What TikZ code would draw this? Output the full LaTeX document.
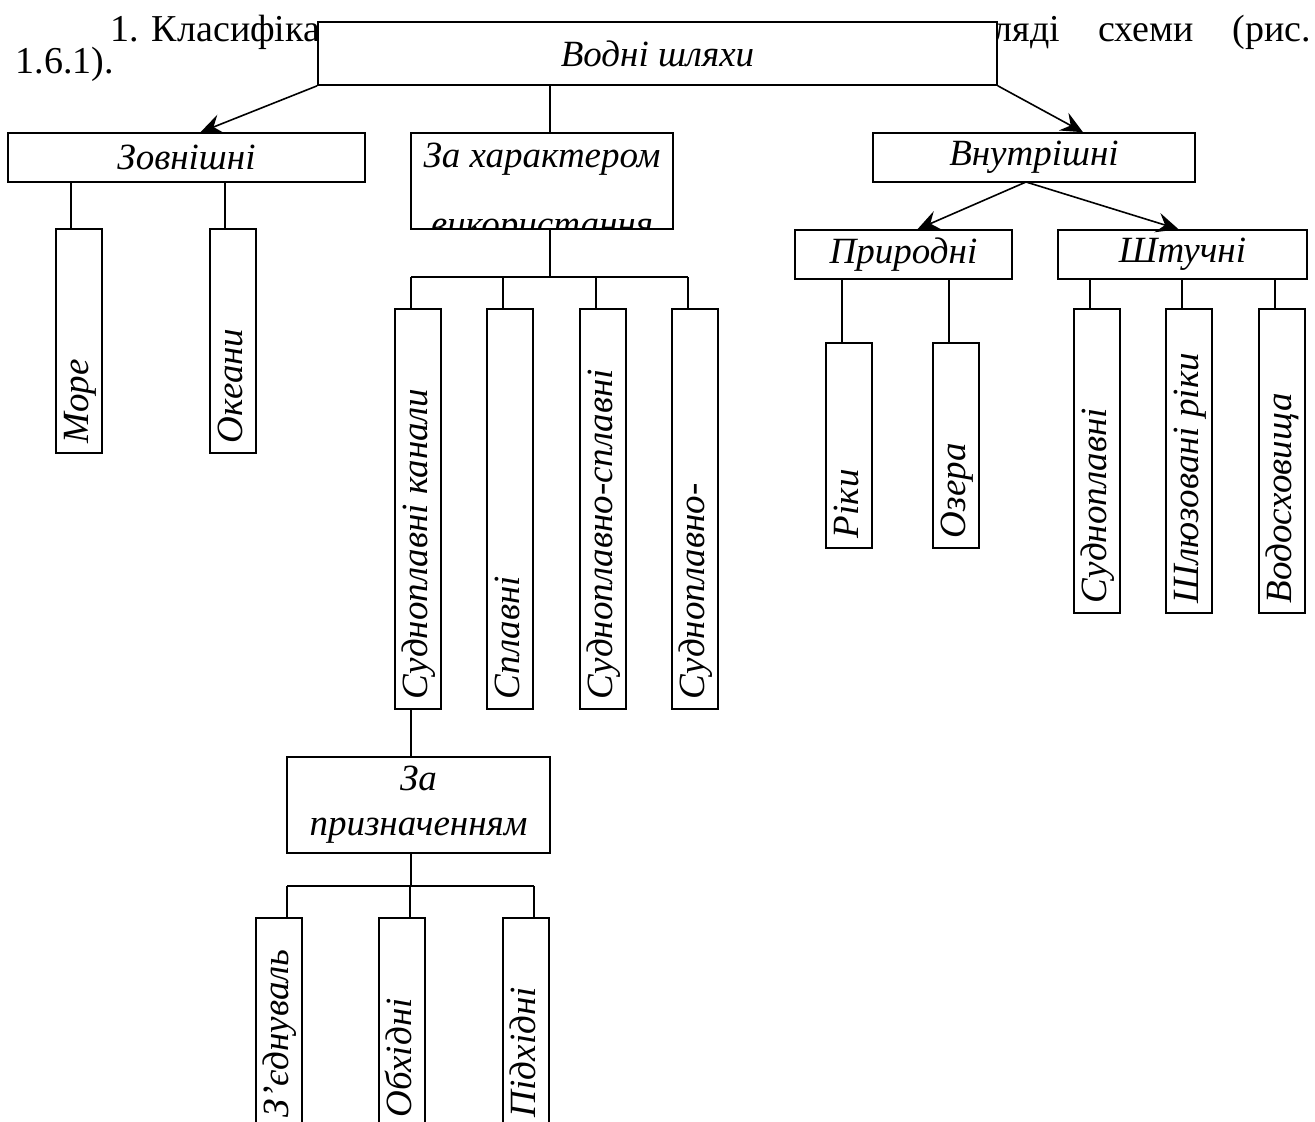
\documentclass[tikz,border=0pt]{standalone}
\usepackage{fontspec}
\setmainfont{Liberation Serif}
\usetikzlibrary{arrows.meta}

\begin{document}
\begin{tikzpicture}[x=1pt,y=-1pt,line width=1.6pt,
  box/.style={draw,fill=white,inner sep=0pt,font=\fontsize{37}{45}\selectfont\itshape},
  vbox/.style={box,minimum width=46pt},
  vtxt/.style={rotate=90,anchor=base west,inner sep=0pt,font=\fontsize{37}{45}\selectfont\itshape},
  ptxt/.style={anchor=base west,inner sep=0pt,font=\fontsize{38}{46}\selectfont},
  arr/.style={-{Stealth[length=22pt,width=20pt,inset=8pt]}}]
\clip (0,0) rectangle (1315,1122);
% text of the page behind the top box
\node[ptxt] (par1) at (110,41) {1. Класифіка};
\node[ptxt] (par2) at (993,41) {\makebox[317pt][s]{ляді схеми (рис.}};
\node[ptxt] (par3) at (15,73) {1.6.1).};
% first level
\node[box,minimum width=679pt,minimum height=63pt] (vodni) at (657.5,53.5) {Водні шляхи};
\node[box,minimum width=357pt,minimum height=49pt] (zovn) at (186.5,157.5) {Зовнішні};
\node[box,minimum width=262pt,minimum height=96pt] (harakter) at (542,181) {};
\begin{scope}
\clip ([yshift=1pt]harakter.south west) rectangle (harakter.north east);
\node[box,draw=none,fill=none,anchor=base] (harakterA) at (542,167) {За характером};
\node[box,draw=none,fill=none,anchor=base] (harakterB) at (542,236) {використання};
\end{scope}
\node[box,minimum width=322pt,minimum height=49pt] (vnutr) at (1034,157.5) {Внутрішні};
\draw[arr] (vodni.south west) -- ([xshift=14pt]zovn.north);
\draw[arr] (vodni.south east) -- ([xshift=49pt]vnutr.north);
\draw ([xshift=8pt]harakter.north) -- ([xshift=8pt]harakter.north |- vodni.south);
% zovnishni
\foreach \nm/\cx/\txt in {more/79/Море,okeany/233/Океани}{
  \node[vbox,minimum height=224pt] (\nm) at (\cx,341) {};
  \node[vtxt] at ([xshift=33pt,yshift=10pt]\nm.south west) {\txt};
  \draw ([xshift=-8pt]\nm.north) -- ([xshift=-8pt]\nm.north |- zovn.south);
}
% za harakterom vykorystannia
\coordinate (bus1) at (550,277);
\draw ([xshift=8pt]harakter.south) -- (bus1);
\foreach \nm/\cx/\txt in {kan1/418/{Судноплавні канали},kan2/510/Сплавні,kan3/603/{Судноплавно-сплавні},kan4/695/{Судноплавно-}}{
  \node[vbox,minimum height=400pt] (\nm) at (\cx,509) {};
  \node[vtxt] at ([xshift=33pt,yshift=10pt]\nm.south west) {\txt};
  \draw ([xshift=-7pt]\nm.north) -- ([xshift=-7pt]\nm.north |- bus1);
}
\draw ([xshift=-7pt]kan1.north |- bus1) -- ([xshift=-7pt]kan4.north |- bus1);
% vnutrishni
\node[box,minimum width=217pt,minimum height=49pt] (pryr) at (903.5,254.5) {Природні};
\node[box,minimum width=249pt,minimum height=49pt] (shtuch) at (1182.5,254.5) {Штучні};
\coordinate (vn) at (1026,182);
\draw[arr] (vn) -- ([xshift=14pt]pryr.north);
\draw[arr] (vn) -- ([xshift=-4pt]shtuch.north);
\foreach \nm/\cx/\txt in {riky/849/Ріки,ozera/956/Озера}{
  \node[vbox,minimum height=205pt] (\nm) at (\cx,445.5) {};
  \node[vtxt] at ([xshift=33pt,yshift=10pt]\nm.south west) {\txt};
  \draw ([xshift=-7pt]\nm.north) -- ([xshift=-7pt]\nm.north |- pryr.south);
}
\foreach \nm/\cx/\txt in {sudn/1097/Судноплавні,shluz/1189/{Шлюзовані ріки},vodos/1282/Водосховища}{
  \node[vbox,minimum height=304pt] (\nm) at (\cx,461) {};
  \node[vtxt] at ([xshift=33pt,yshift=10pt]\nm.south west) {\txt};
  \draw ([xshift=-7pt]\nm.north) -- ([xshift=-7pt]\nm.north |- shtuch.south);
}
% za pryznachenniam
\node[box,minimum width=263pt,minimum height=96pt,align=center] (pryzn) at (418.5,805) {За\\призначенням};
\draw ([xshift=-7pt]kan1.south) -- ([xshift=-7pt]kan1.south |- pryzn.north);
\coordinate (bus2) at (411,886);
\draw (bus2 |- pryzn.south) -- (bus2);
\foreach \nm/\cx/\txt in {zyedn/279/З’єднуваль,obkh/402/Обхідні,pidkh/526/Підхідні}{
  \node[vbox,minimum height=222pt] (\nm) at (\cx,1029) {};
  \node[vtxt] at ([xshift=33pt,yshift=23pt]\nm.south west) {\txt};
  \draw ([xshift=8pt]\nm.north) -- ([xshift=8pt]\nm.north |- bus2);
}
\draw ([xshift=8pt]zyedn.north |- bus2) -- ([xshift=8pt]pidkh.north |- bus2);
\end{tikzpicture}
\end{document}
